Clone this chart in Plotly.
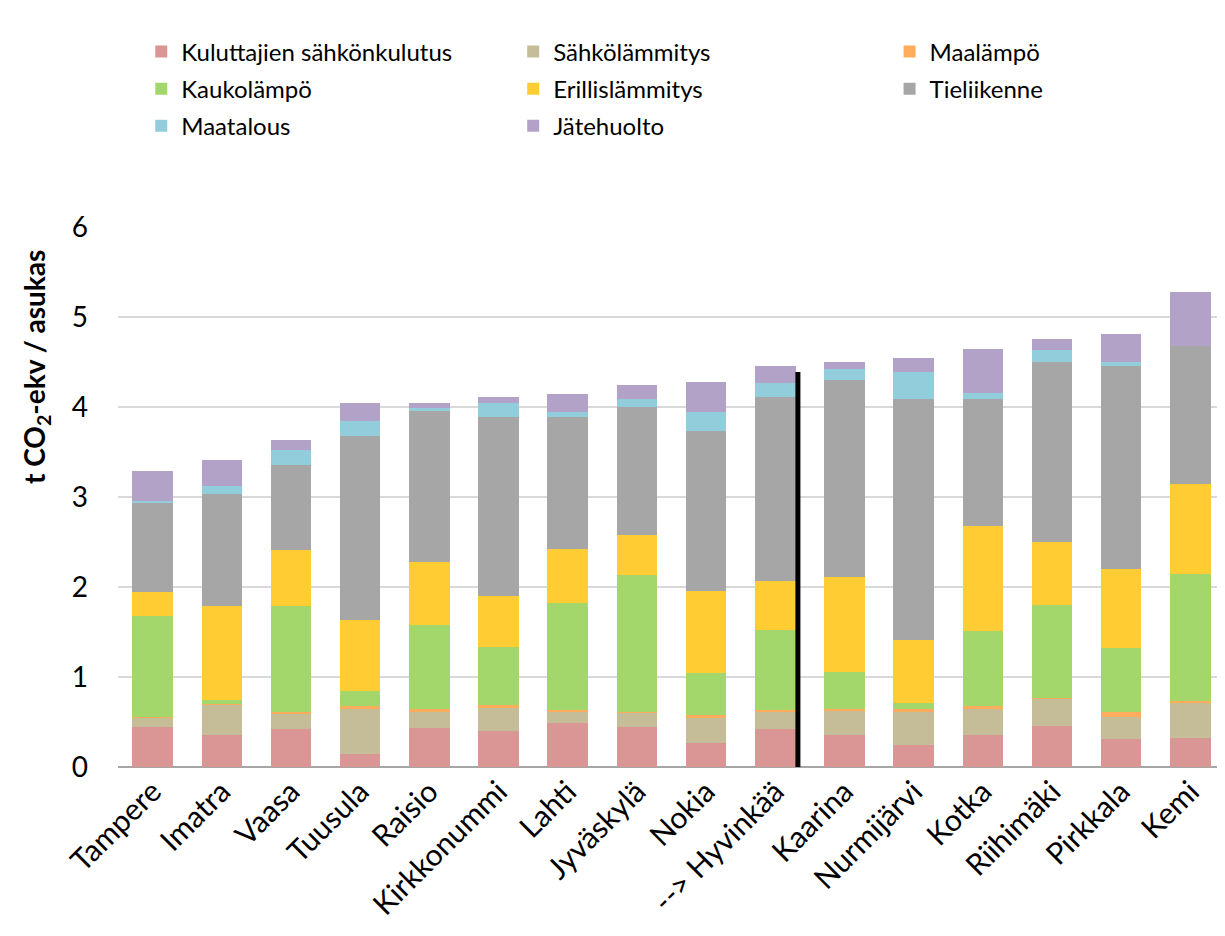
import plotly.graph_objects as go

# Kunnat (järjestys kuten kuvassa)
kunnat = ["Tampere", "Imatra", "Vaasa", "Tuusula", "Raisio", "Kirkkonummi", "Lahti",
          "Jyväskylä", "Nokia", "--> Hyvinkää", "Kaarina", "Nurmijärvi", "Kotka",
          "Riihimäki", "Pirkkala", "Kemi"]

# Päästöt t CO2-ekv / asukas, sektoreittain
kuluttajien_sahko = [0.45, 0.36, 0.42, 0.15, 0.43, 0.40, 0.49, 0.45, 0.27, 0.42, 0.36, 0.25, 0.36, 0.46, 0.31, 0.32]
sahkolammitys     = [0.10, 0.33, 0.17, 0.49, 0.18, 0.26, 0.13, 0.15, 0.28, 0.20, 0.27, 0.37, 0.29, 0.30, 0.25, 0.40]
maalampo          = [0.01, 0.01, 0.02, 0.04, 0.03, 0.03, 0.01, 0.01, 0.03, 0.01, 0.02, 0.02, 0.03, 0.005, 0.05, 0.01]
kaukolampo        = [1.12, 0.05, 1.18, 0.16, 0.94, 0.64, 1.19, 1.52, 0.47, 0.89, 0.41, 0.07, 0.83, 1.03, 0.71, 1.41]
erillislammitys   = [0.26, 1.04, 0.62, 0.79, 0.70, 0.57, 0.60, 0.45, 0.91, 0.55, 1.05, 0.70, 1.17, 0.70, 0.88, 1.01]
tieliikenne       = [1.00, 1.24, 0.95, 2.05, 1.68, 1.99, 1.47, 1.42, 1.77, 2.04, 2.19, 2.68, 1.41, 2.00, 2.26, 1.53]
maatalous         = [0.02, 0.09, 0.16, 0.17, 0.03, 0.15, 0.06, 0.09, 0.21, 0.16, 0.12, 0.30, 0.07, 0.14, 0.04, 0.00]
jatehuolto        = [0.33, 0.29, 0.11, 0.19, 0.06, 0.07, 0.19, 0.16, 0.34, 0.19, 0.08, 0.16, 0.48, 0.12, 0.31, 0.60]

sarjat = [
    ("Kuluttajien sähkönkulutus", kuluttajien_sahko, "#D99694", "legend"),
    ("Sähkölämmitys", sahkolammitys, "#C4BD97", "legend2"),
    ("Maalämpö", maalampo, "#FFAC5C", "legend3"),
    ("Kaukolämpö", kaukolampo, "#A3D66B", "legend"),
    ("Erillislämmitys", erillislammitys, "#FFCD33", "legend2"),
    ("Tieliikenne", tieliikenne, "#A6A6A6", "legend3"),
    ("Maatalous", maatalous, "#92CDDC", "legend"),
    ("Jätehuolto", jatehuolto, "#B3A2C7", "legend2"),
]

FONT = "Lato, Noto Sans, sans-serif"

fig = go.Figure()
for nimi, arvot, vari, leg in sarjat:
    fig.add_trace(go.Bar(
        x=kunnat, y=arvot, name=nimi, legend=leg, legendgroup=nimi,
        marker=dict(color=vari, line=dict(width=0)),
    ))

leg_common = dict(
    orientation="v", yanchor="top", y=1.366, xanchor="left",
    font=dict(family=FONT, size=24, color="black"),
    bgcolor="rgba(0,0,0,0)", tracegroupgap=3, itemwidth=30,
)

fig.update_layout(
    barmode="stack",
    bargap=0.414,
    width=1217, height=928,
    margin=dict(l=110, r=0, t=219, b=169),
    plot_bgcolor="white", paper_bgcolor="white",
    font=dict(family=FONT, color="black"),
    legend=dict(x=0.021, **leg_common),
    legend2=dict(x=0.357, **leg_common),
    legend3=dict(x=0.697, **leg_common),
    xaxis=dict(
        tickangle=-45, tickfont=dict(size=30, color="black"),
        showline=False, ticks="",
    ),
    yaxis=dict(
        range=[0, 6], dtick=1, showgrid=True, gridcolor="#D9D9D9", gridwidth=2,
        zeroline=True, zerolinecolor="#A6A6A6", zerolinewidth=2,
        tickfont=dict(size=28, color="black"), ticks="", ticklabelstandoff=29,
    ),
    annotations=[
        dict(text="<b>t CO<sub>2</sub>-ekv / asukas</b>", xref="paper", yref="paper",
             x=-0.074, y=0.741, textangle=-90, showarrow=False,
             font=dict(size=28, color="black"), xanchor="center", yanchor="middle"),
    ],
    shapes=[
        dict(type="line", xref="x", yref="y", x0=9.327, x1=9.327, y0=-0.01, y1=4.39,
             line=dict(color="black", width=5)),
        dict(type="line", xref="x", yref="y", x0=8.78, x1=9.36, y0=-0.012, y1=-0.012,
             line=dict(color="black", width=2)),
    ],
)

fig.write_html("out.html")
